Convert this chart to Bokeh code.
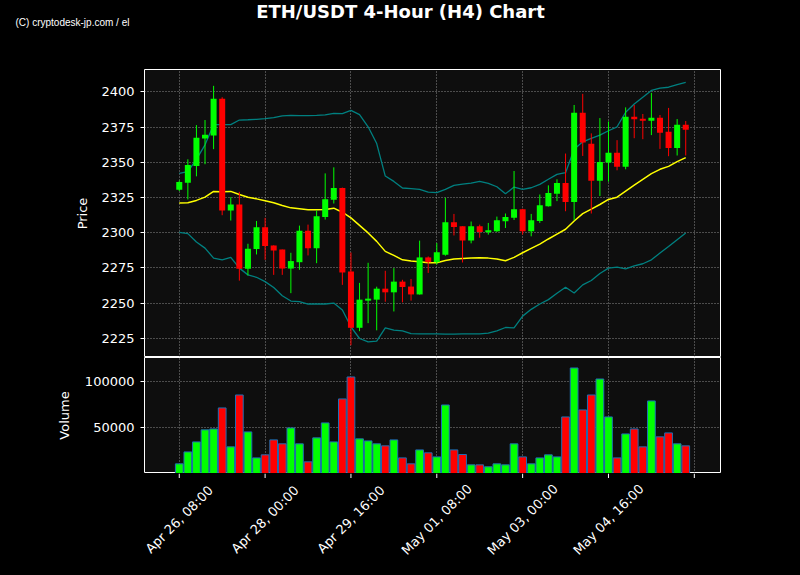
import math
from bokeh.plotting import figure
from bokeh.layouts import column
from bokeh.models import Range1d, FixedTicker, NumeralTickFormatter, ColumnDataSource
from bokeh.core.properties import value
from bokeh.embed import file_html
from bokeh.resources import INLINE

# ---------------- data ----------------
title_text = "ETH/USDT 4-Hour (H4) Chart"
watermark_text = "(C) cryptodesk-jp.com / el"

tick_positions = [0, 10, 20, 30, 40, 50, 60]
tick_labels = ["Apr 26, 08:00", "Apr 28, 00:00", "Apr 29, 16:00", "May 01, 08:00",
               "May 03, 00:00", "May 04, 16:00", ""]
price_ticks = [2225, 2250, 2275, 2300, 2325, 2350, 2375, 2400]
volume_ticks = [50000, 100000]

opens = [2330.5, 2335.5, 2347.4, 2366.9, 2369.0, 2395.2, 2315.7, 2320.0, 2274.3, 2288.3,
         2303.8, 2290.9, 2288.0, 2274.5, 2279.0, 2301.4, 2289.0, 2311.2, 2323.3, 2331.7,
         2272.4, 2232.4, 2251.7, 2252.4, 2260.2, 2257.6, 2265.2, 2261.7, 2256.1, 2282.4,
         2279.0, 2284.3, 2307.4, 2304.5, 2294.5, 2304.5, 2300.2, 2301.0, 2308.1, 2310.5,
         2316.7, 2301.0, 2308.3, 2318.8, 2327.6, 2335.2, 2321.7, 2385.2, 2363.1, 2336.9,
         2349.8, 2356.7, 2346.9, 2382.4, 2381.0, 2379.5, 2381.7, 2371.7, 2360.2, 2376.7]
highs = [2337.0, 2352.1, 2376.4, 2380.0, 2404.3, 2396.2, 2325.2, 2329.0, 2292.1, 2308.3,
         2310.5, 2291.0, 2288.0, 2285.7, 2305.0, 2305.7, 2315.7, 2342.1, 2346.4, 2332.0,
         2285.9, 2264.3, 2278.6, 2261.6, 2272.9, 2274.8, 2266.5, 2267.1, 2294.3, 2283.1,
         2292.6, 2324.8, 2313.3, 2304.5, 2307.9, 2305.7, 2306.9, 2311.4, 2313.6, 2343.8,
         2317.0, 2313.3, 2327.1, 2333.6, 2337.9, 2356.2, 2390.7, 2398.6, 2370.5, 2381.4,
         2379.0, 2365.7, 2389.0, 2390.7, 2384.3, 2399.3, 2383.6, 2388.6, 2380.7, 2379.3]
lows = [2329.5, 2323.6, 2340.0, 2348.6, 2359.3, 2312.4, 2308.6, 2265.9, 2269.6, 2284.5,
        2280.7, 2270.0, 2270.0, 2257.0, 2273.6, 2283.8, 2278.3, 2309.3, 2320.7, 2262.9,
        2220.0, 2230.0, 2235.7, 2230.6, 2250.9, 2244.0, 2250.5, 2251.7, 2256.0, 2271.4,
        2277.4, 2283.6, 2298.0, 2278.8, 2292.4, 2296.4, 2298.6, 2300.5, 2303.3, 2309.0,
        2298.6, 2297.4, 2306.9, 2318.5, 2322.4, 2315.2, 2308.8, 2354.5, 2313.6, 2326.0,
        2336.2, 2344.3, 2345.0, 2367.1, 2366.4, 2369.3, 2359.5, 2354.3, 2354.8, 2354.8]
closes = [2336.0, 2348.1, 2367.4, 2369.5, 2395.2, 2315.7, 2320.0, 2274.3, 2288.6, 2303.8,
          2290.5, 2287.4, 2274.5, 2279.8, 2301.4, 2289.0, 2311.7, 2323.8, 2331.7, 2271.7,
          2232.4, 2252.4, 2253.1, 2260.2, 2257.6, 2265.2, 2261.4, 2256.1, 2282.4, 2279.0,
          2286.0, 2307.4, 2304.0, 2294.5, 2304.5, 2300.5, 2301.7, 2308.8, 2311.2, 2316.7,
          2301.0, 2308.8, 2319.5, 2328.1, 2335.2, 2321.7, 2385.2, 2364.0, 2336.9, 2350.2,
          2356.7, 2346.9, 2382.4, 2380.5, 2379.5, 2381.7, 2371.0, 2360.2, 2376.7, 2373.1]
volumes = [10500, 23500, 34400, 47500, 48500, 71400, 29000, 85500, 45300, 17000,
           20300, 36600, 32300, 49600, 32300, 12700, 38800, 55100, 34400, 81200,
           105100, 37700, 35500, 32300, 30100, 36600, 17000, 10500, 25700, 22500,
           18100, 74600, 25700, 20700, 9400, 9400, 7300, 10500, 9400, 32300,
           18100, 10500, 17000, 20300, 18100, 61600, 114900, 69200, 85500, 102900,
           61600, 17000, 43100, 48500, 29000, 79000, 39900, 44200, 32300, 30100]
bb_upper = [2342.1, 2343.3, 2352.1, 2362.4, 2376.7, 2376.7, 2376.7, 2380.0, 2380.2, 2380.5,
            2381.0, 2381.7, 2382.9, 2383.3, 2383.1, 2383.1, 2383.3, 2383.6, 2384.8, 2384.5,
            2386.9, 2383.8, 2375.2, 2363.3, 2340.2, 2336.4, 2331.7, 2331.2, 2330.7, 2328.8,
            2328.5, 2330.7, 2333.6, 2334.5, 2335.2, 2336.4, 2335.0, 2332.6, 2327.6, 2332.4,
            2330.7, 2331.9, 2334.3, 2337.9, 2341.4, 2342.6, 2359.3, 2364.5, 2366.9, 2369.3,
            2372.4, 2375.2, 2385.5, 2391.4, 2396.2, 2401.0, 2402.6, 2403.3, 2405.2, 2406.7]
bb_middle = [2321.0, 2321.2, 2322.9, 2325.2, 2329.3, 2329.0, 2329.3, 2327.1, 2325.2, 2324.0,
             2322.6, 2321.2, 2319.3, 2317.6, 2316.9, 2316.2, 2316.2, 2316.4, 2317.4, 2314.5,
             2310.5, 2305.2, 2299.8, 2293.8, 2286.7, 2283.8, 2280.7, 2279.8, 2279.3, 2278.6,
             2278.6, 2280.2, 2281.2, 2281.7, 2281.9, 2282.1, 2281.9, 2281.2, 2280.0, 2282.4,
             2285.7, 2288.8, 2291.9, 2295.5, 2299.0, 2302.4, 2308.3, 2313.5, 2316.7, 2320.0,
             2323.6, 2325.2, 2329.5, 2333.8, 2337.9, 2341.9, 2345.0, 2347.1, 2350.5, 2353.3]
bb_lower = [2300.2, 2299.3, 2293.3, 2289.0, 2281.9, 2280.7, 2282.4, 2274.8, 2270.0, 2268.3,
            2265.2, 2261.0, 2255.2, 2251.4, 2251.0, 2249.3, 2249.3, 2249.3, 2250.0, 2245.0,
            2233.1, 2224.8, 2222.4, 2222.9, 2232.4, 2230.7, 2230.2, 2228.3, 2228.1, 2228.1,
            2228.1, 2227.9, 2227.9, 2228.1, 2228.1, 2228.1, 2228.6, 2230.2, 2232.6, 2232.4,
            2240.7, 2245.5, 2249.3, 2252.4, 2256.9, 2261.2, 2257.1, 2262.9, 2266.0, 2271.0,
            2274.8, 2275.5, 2274.3, 2276.4, 2277.9, 2280.7, 2285.5, 2290.2, 2295.0, 2299.8]

# ---------------- layout geometry ----------------
W, H = 800, 575
LEFT, FRAME_W = 144, 576
RIGHT = W - LEFT - FRAME_W
HEADER_H, PRICE_H, VOL_H = 69, 288, 116
FOOTER_H = H - HEADER_H - PRICE_H - VOL_H
X0, X1 = -4.05, 63.05
PX = FRAME_W / (X1 - X0)

BG = "black"
PANEL = "#0e0e0e"
GREEN, RED = "#00ff00", "#ff0000"
FONT_NAME = "DejaVu Sans"
FONT = value(FONT_NAME)

idx = list(range(len(opens)))
colors = [GREEN if c >= o else RED for o, c in zip(opens, closes)]
src = ColumnDataSource(dict(
    x=idx, open=opens, high=highs, low=lows, close=closes,
    top=[max(o, c) for o, c in zip(opens, closes)],
    bottom=[min(o, c) for o, c in zip(opens, closes)],
    color=colors, volume=volumes,
    upper=bb_upper, middle=bb_middle, lower=bb_lower,
))

xr = Range1d(X0, X1)


def style_panel(fig):
    fig.background_fill_color = PANEL
    fig.border_fill_color = BG
    fig.outline_line_color = "white"
    fig.outline_line_width = 1
    fig.xgrid.ticker = FixedTicker(ticks=tick_positions)
    for g in (fig.xgrid, fig.ygrid):
        g.grid_line_color = "#9a9a9a"
        g.grid_line_dash = "1 2"
        g.grid_line_width = 1
        g.grid_line_alpha = 0.9
    ax = fig.yaxis[0]
    ax.axis_line_color = None
    ax.major_tick_line_color = "white"
    ax.major_tick_out = 4
    ax.major_tick_in = 0
    ax.minor_tick_line_color = None
    ax.major_label_standoff = 6
    ax.major_label_text_color = "white"
    ax.major_label_text_font = FONT_NAME
    ax.major_label_text_font_size = "13px"
    ax.axis_label_text_color = "white"
    ax.axis_label_text_font = FONT_NAME
    ax.axis_label_text_font_size = "13px"
    ax.axis_label_text_font_style = "normal"


def bare_figure(height, x_range, y_range):
    f = figure(width=W, height=height, x_range=x_range, y_range=y_range,
               output_backend="svg", toolbar_location=None,
               x_axis_location=None, y_axis_location=None,
               min_border_left=0, min_border_right=0, min_border_top=0, min_border_bottom=0,
               background_fill_color=BG, border_fill_color=BG)
    f.outline_line_color = None
    f.frame_align = False
    f.xgrid.visible = False
    f.ygrid.visible = False
    return f


# ---------------- header ----------------
header = bare_figure(HEADER_H, Range1d(0, W), Range1d(0, HEADER_H))
header.text(x=[W / 2], y=[HEADER_H - 10.5], text=[title_text], text_font=FONT,
            text_font_size="18px", text_font_style="bold", text_color="white",
            text_align="center", text_baseline="middle")
header.text(x=[15], y=[HEADER_H - 22], text=[watermark_text],
            text_font=value("Liberation Sans"),
            text_font_size="10px", text_color="white", text_align="left", text_baseline="middle")

# ---------------- price panel ----------------
p = figure(width=W, height=PRICE_H, x_range=xr, y_range=Range1d(2211.3, 2415.9),
           output_backend="svg", toolbar_location=None, x_axis_location=None,
           min_border_left=LEFT, min_border_right=RIGHT, min_border_top=0, min_border_bottom=0)
style_panel(p)
p.yaxis.ticker = FixedTicker(ticks=price_ticks)
p.yaxis.axis_label = "Price"
p.yaxis.axis_label_standoff = 8

p.line("x", "upper", source=src, line_color="#008080", line_width=1.3)
p.line("x", "lower", source=src, line_color="#008080", line_width=1.3)
p.line("x", "middle", source=src, line_color="#ffff00", line_width=1.5)
p.segment(x0="x", y0="high", x1="x", y1="low", source=src, line_color="color", line_width=1)
p.vbar(x="x", width=0.7, top="top", bottom="bottom", source=src,
       fill_color="color", line_color=None)

# ---------------- volume panel ----------------
v = figure(width=W, height=VOL_H, x_range=xr, y_range=Range1d(0, 126300),
           output_backend="svg", toolbar_location=None, x_axis_location=None,
           min_border_left=LEFT, min_border_right=RIGHT, min_border_top=0, min_border_bottom=0)
style_panel(v)
v.yaxis.ticker = FixedTicker(ticks=volume_ticks)
v.yaxis.formatter = NumeralTickFormatter(format="0")
v.yaxis.axis_label = "Volume"
v.yaxis.axis_label_standoff = 10
v.vbar(x="x", width=0.9, top="volume", bottom=0, source=src,
       fill_color="color", line_color="#1f6fb4", line_width=1)

# ---------------- footer: x ticks and rotated date labels ----------------
footer = bare_figure(FOOTER_H, Range1d(X0 - LEFT / PX, X1 + RIGHT / PX), Range1d(0, FOOTER_H))
footer.segment(x0=tick_positions, y0=[FOOTER_H] * len(tick_positions),
               x1=tick_positions, y1=[FOOTER_H - 4.5] * len(tick_positions),
               line_color="white", line_width=1)
lab_x = [t for t, l in zip(tick_positions, tick_labels) if l]
lab_t = [l for l in tick_labels if l]
footer.text(x=lab_x, y=[FOOTER_H - 46] * len(lab_x), text=lab_t, angle=math.pi / 4,
            text_font=FONT, text_font_size="13px", text_color="white",
            text_align="center", text_baseline="middle")

layout = column(header, p, v, footer, spacing=0, styles={"background-color": "black"})
open("out.html", "w").write(file_html(layout, INLINE))
